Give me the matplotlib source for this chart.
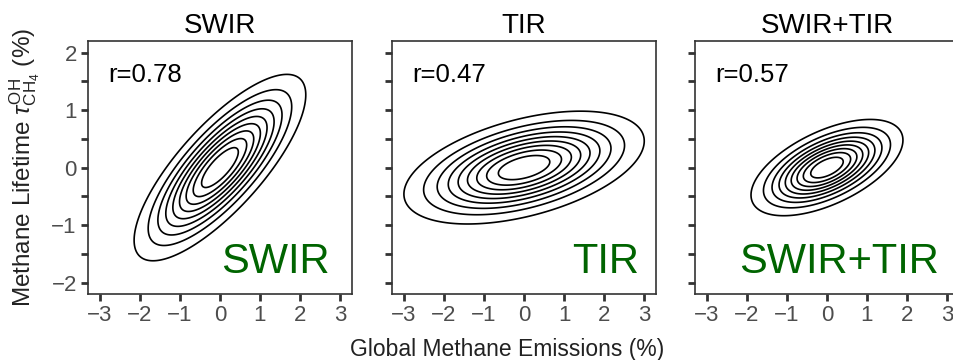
import matplotlib.pyplot as plt
import numpy as np

plt.rcParams['font.family'] = ['Liberation Sans', 'DejaVu Sans']
plt.rcParams['mathtext.fontset'] = 'custom'
plt.rcParams['mathtext.rm'] = 'Liberation Sans'
plt.rcParams['mathtext.it'] = 'Liberation Sans:italic'

# panel data
panels = ["SWIR", "TIR", "SWIR+TIR"]
r_vals = [0.78, 0.47, 0.57]
sig_x = [1.00, 1.40, 0.885]
sig_y = [0.755, 0.457, 0.39]
prob_levels = [0.1, 0.2, 0.3, 0.4, 0.5, 0.6, 0.7, 0.8, 0.9]

x_ticks = [-3, -2, -1, 0, 1, 2, 3]
y_ticks = [-2, -1.5, -1, -0.5, 0, 0.5, 1, 1.5, 2]
y_labels = ["\u22122", "", "\u22121", "", "0", "", "1", "", "2"]

fig = plt.figure(figsize=(9.54, 3.6), dpi=100)
lefts = [0.0922, 0.411, 0.7285]
gx = np.linspace(-3.3, 3.3, 400)
gy = np.linspace(-2.2, 2.2, 400)
X, Y = np.meshgrid(gx, gy)
c2 = [-2 * np.log(1 - p) for p in prob_levels]
name_x = [0.917, 0.936, 0.925]

for i, name in enumerate(panels):
    ax = fig.add_axes([lefts[i], 0.183, 0.2767, 0.703])
    r = r_vals[i]
    u = X / sig_x[i]
    v = Y / sig_y[i]
    d2 = (u**2 - 2 * r * u * v + v**2) / (1 - r**2)
    ax.contour(X, Y, d2, levels=c2, colors="black", linewidths=1.2)
    ax.set_xlim(-3.3, 3.3)
    ax.set_ylim(-2.2, 2.2)
    ax.set_xticks(x_ticks)
    ax.set_yticks(y_ticks)
    if i == 0:
        ax.set_yticklabels(y_labels)
    else:
        ax.set_yticklabels([])
    ax.tick_params(direction="out", length=5, width=2, color="#333333",
                   labelcolor="#4d4d4d", labelsize=16, pad=3)
    for s in ax.spines.values():
        s.set_color("#333333")
        s.set_linewidth(1.2)
    if i == 2:
        ax.spines["right"].set_visible(False)
    ax.set_title(name, fontsize=20, pad=6)
    ax.text(0.075, 0.915, "r=%.2f" % r, transform=ax.transAxes, fontsize=18.5,
            va="top", ha="left")
    ax.text(name_x[i], 0.085, name, transform=ax.transAxes, fontsize=30,
            color="#006400", va="baseline", ha="right")

fig.text(0.532, 0.012, "Global Methane Emissions (%)", ha="center", va="baseline",
         fontsize=16.5, color="#222222")
fig.text(0.026, 0.536, r"Methane Lifetime $\tau^{\mathrm{OH}}_{\mathrm{CH_4}}$ (%)",
         rotation=90, ha="center", va="center", fontsize=17.5, color="#222222")

fig.savefig("out.png", dpi=100)
